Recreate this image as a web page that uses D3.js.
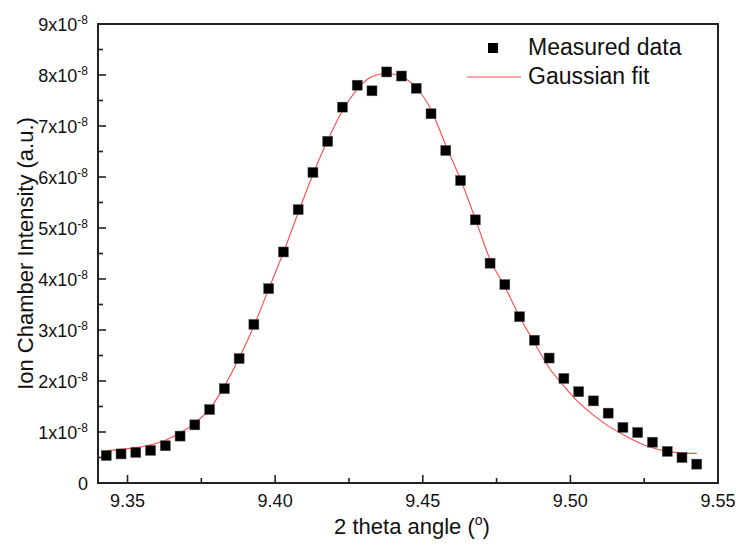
<!DOCTYPE html>
<html>
<head>
<meta charset="utf-8">
<script src="https://cdn.jsdelivr.net/npm/d3@7"></script>
<style>
  body { margin: 0; background: #fff; }
  text { font-family: "Liberation Sans", Arial, sans-serif; fill: #111; }
</style>
</head>
<body>
<script>
// 2 theta angles of the scan
var angles = [9.3428, 9.3478, 9.3528, 9.3578, 9.3628, 9.3678, 9.3728, 9.3778, 9.3828, 9.3878,
              9.3928, 9.3978, 9.4028, 9.4078, 9.4128, 9.4178, 9.4228, 9.4278, 9.4328, 9.4378,
              9.4428, 9.4478, 9.4528, 9.4578, 9.4628, 9.4678, 9.4728, 9.4778, 9.4828, 9.4878,
              9.4928, 9.4978, 9.5028, 9.5078, 9.5128, 9.5178, 9.5228, 9.5278, 9.5328, 9.5378,
              9.5428];

// measured intensity, in units of 1e-8
var measured = [0.54, 0.57, 0.60, 0.64, 0.73, 0.92, 1.14, 1.44, 1.85, 2.44,
                3.11, 3.81, 4.53, 5.36, 6.09, 6.70, 7.37, 7.80, 7.69, 8.06,
                7.98, 7.74, 7.24, 6.52, 5.93, 5.16, 4.31, 3.89, 3.26, 2.80,
                2.45, 2.05, 1.79, 1.61, 1.37, 1.09, 0.99, 0.80, 0.62, 0.50,
                0.37];

// gaussian fit curve read at the same angles, units of 1e-8
var fitted = [0.63, 0.66, 0.69, 0.75, 0.84, 0.98, 1.18, 1.45, 1.90, 2.45,
              3.08, 3.80, 4.52, 5.30, 6.05, 6.72, 7.30, 7.72, 7.97, 8.03,
              7.97, 7.75, 7.32, 6.62, 5.95, 5.18, 4.38, 3.85, 3.26, 2.75,
              2.26, 1.90, 1.58, 1.33, 1.12, 0.95, 0.80, 0.69, 0.62, 0.59,
              0.58];

var xTicks = [9.35, 9.40, 9.45, 9.50, 9.55];
var xMinor = [9.375, 9.425, 9.475, 9.525];
var yTicks = [0, 1, 2, 3, 4, 5, 6, 7, 8, 9];
var yMinor = [0.5, 1.5, 2.5, 3.5, 4.5, 5.5, 6.5, 7.5, 8.5];

var w = 736, h = 549;
var pLeft = 98, pRight = 718, pTop = 24, pBottom = 483;

var svg = d3.select("body").append("svg")
    .attr("width", w)
    .attr("height", h);

var x = d3.scaleLinear().domain([9.34, 9.55]).range([pLeft, pRight]);
var y = d3.scaleLinear().domain([0, 9]).range([pBottom, pTop]);

var axisColor = "#222";

// ticks (inward)
svg.selectAll(".xmaj").data(xTicks).enter().append("line")
    .attr("x1", function(d) { return x(d); }).attr("x2", function(d) { return x(d); })
    .attr("y1", pBottom).attr("y2", pBottom - 8)
    .style("stroke", axisColor).style("stroke-width", 1.6);
svg.selectAll(".xmin").data(xMinor).enter().append("line")
    .attr("x1", function(d) { return x(d); }).attr("x2", function(d) { return x(d); })
    .attr("y1", pBottom).attr("y2", pBottom - 5)
    .style("stroke", axisColor).style("stroke-width", 1.6);
svg.selectAll(".ymaj").data(yTicks).enter().append("line")
    .attr("x1", pLeft).attr("x2", pLeft + 8)
    .attr("y1", function(d) { return y(d); }).attr("y2", function(d) { return y(d); })
    .style("stroke", axisColor).style("stroke-width", 1.6);
svg.selectAll(".ymin").data(yMinor).enter().append("line")
    .attr("x1", pLeft).attr("x2", pLeft + 5)
    .attr("y1", function(d) { return y(d); }).attr("y2", function(d) { return y(d); })
    .style("stroke", axisColor).style("stroke-width", 1.6);

// frame
svg.append("rect")
    .attr("x", pLeft).attr("y", pTop)
    .attr("width", pRight - pLeft).attr("height", pBottom - pTop)
    .style("fill", "none").style("stroke", axisColor).style("stroke-width", 2);

// tick labels
svg.selectAll(".xlab").data(xTicks).enter().append("text")
    .attr("x", function(d) { return x(d); })
    .attr("y", 507)
    .attr("text-anchor", "middle")
    .style("font-size", "18px")
    .text(function(d) { return d.toFixed(2); });

var ylab = svg.selectAll(".ylab").data(yTicks).enter().append("text")
    .attr("x", 88)
    .attr("y", function(d) { return y(d) + 7; })
    .attr("text-anchor", "end")
    .style("font-size", "18px");
ylab.each(function(d) {
    var t = d3.select(this);
    if (d === 0) { t.text("0"); return; }
    t.append("tspan").text(d + "x10");
    t.append("tspan").attr("dy", -7).style("font-size", "12px").text("-8");
});

// axis titles
var xt = svg.append("text")
    .attr("x", (pLeft + pRight) / 2 + 4)
    .attr("y", 534)
    .attr("text-anchor", "middle")
    .style("font-size", "22px");
xt.append("tspan").text("2 theta angle (");
xt.append("tspan").attr("dy", -9).style("font-size", "14px").text("o");
xt.append("tspan").attr("dy", 9).text(")");

svg.append("text")
    .attr("transform", "translate(33," + (pTop + pBottom) / 2 + ") rotate(-90)")
    .attr("text-anchor", "middle")
    .style("font-size", "22px")
    .text("Ion Chamber Intensity (a.u.)");

// gaussian fit line
var line = d3.line()
    .x(function(d, i) { return x(angles[i]); })
    .y(function(d) { return y(d); })
    .curve(d3.curveMonotoneX);

svg.append("path")
    .datum(fitted)
    .attr("d", line)
    .style("fill", "none")
    .style("stroke", "#ff4a4a")
    .style("stroke-width", 1.1);

// measured points
svg.selectAll(".pt").data(measured).enter().append("rect")
    .attr("x", function(d, i) { return x(angles[i]) - 5; })
    .attr("y", function(d) { return y(d) - 5; })
    .attr("width", 10).attr("height", 10)
    .style("fill", "#000")
    .style("stroke", "#555").style("stroke-width", 0.5);

// legend
svg.append("rect")
    .attr("x", 488).attr("y", 43).attr("width", 10).attr("height", 10)
    .style("fill", "#000");
svg.append("text")
    .attr("x", 528).attr("y", 55)
    .style("font-size", "23px")
    .text("Measured data");
svg.append("line")
    .attr("x1", 467).attr("x2", 521).attr("y1", 77).attr("y2", 77)
    .style("stroke", "#ff4a4a").style("stroke-width", 1.1);
svg.append("text")
    .attr("x", 528).attr("y", 84)
    .style("font-size", "23px")
    .text("Gaussian fit");
</script>
</body>
</html>
